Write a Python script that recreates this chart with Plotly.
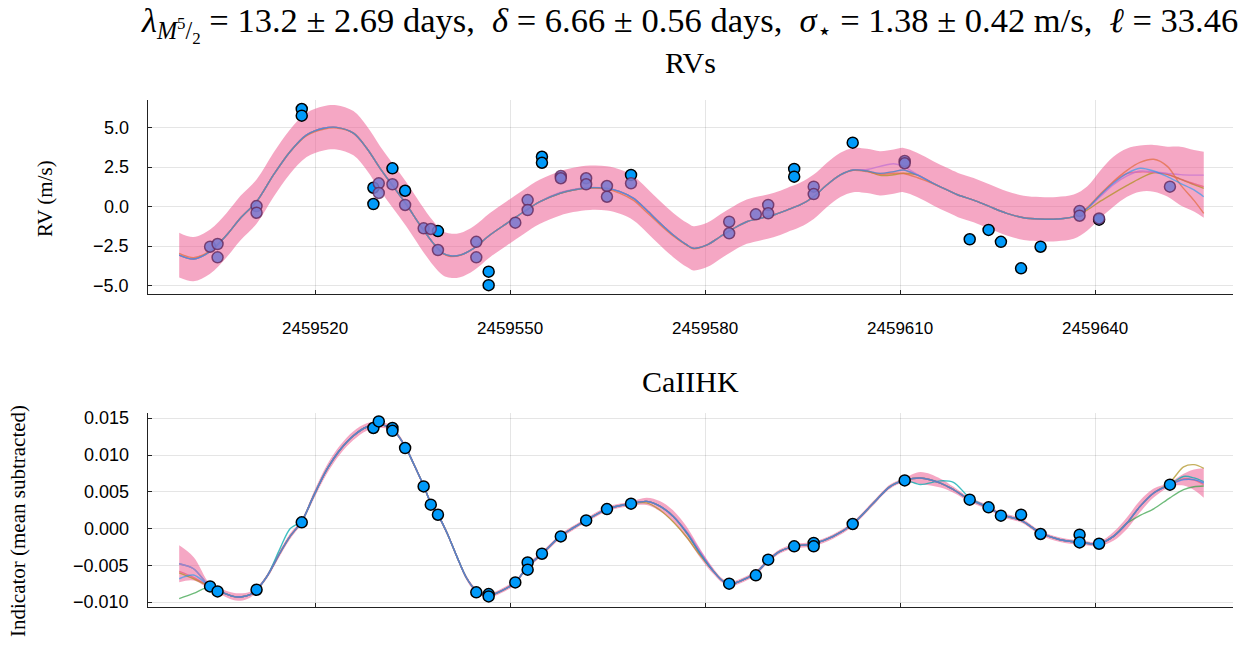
import plotly.graph_objects as go

BJD0 = 2459520  # reference epoch; all times below are days after it

# ---------------- RV observations (m/s) ----------------
rv_t = [-2.05, -2.05, 8.97, 8.97, 11.9, 13.85, 18.9, 26.7, 26.7, 34.9, 34.9, 48.6,
        73.7, 73.7, 82.7, 100.7, 103.6, 105.5, 108.6, 111.6, 120.6]
rv_v = [6.18, 5.76, 1.20, 0.17, 2.43, 1.01, -1.54, -4.11, -4.96, 3.16, 2.78, 2.01,
        2.39, 1.90, 4.05, -2.06, -1.47, -2.22, -3.90, -2.53, -0.82]

rv_alt_t = [-16.15, -15.0, -15.0, -9.0, -9.0, 9.8, 9.8, 11.9, 13.85, 16.7, 17.8, 18.9,
            24.8, 24.8, 30.8, 32.7, 32.7, 37.8, 37.8, 41.7, 41.7, 44.9, 44.9, 48.6,
            63.7, 63.7, 67.8, 69.7, 69.7, 76.7, 76.7, 90.7, 90.7, 117.6, 117.6, 120.6, 131.5]
rv_alt_v = [-2.53, -2.36, -3.20, 0.04, -0.38, 1.48, 0.87, 1.42, 0.11, -1.37, -1.41, -2.74,
            -2.22, -3.20, -1.01, 0.42, -0.21, 1.94, 1.80, 1.80, 1.42, 1.31, 0.63, 1.48,
            -0.95, -1.68, -0.48, 0.11, -0.42, 1.27, 0.80, 2.89, 2.75, -0.27, -0.57, -0.74, 1.27]

# ---------------- CaII H&K indicator (mean subtracted) ----------------
ca_t = [-16.15, -15.0, -9.0, -2.05, 8.97, 9.8, 11.9, 11.9, 13.85, 16.7, 17.8, 18.9,
        24.8, 26.7, 26.7, 30.8, 32.7, 32.7, 34.9, 37.8, 41.7, 44.9, 48.6, 63.7,
        67.8, 69.7, 73.7, 76.7, 76.7, 82.7, 90.7, 100.7, 103.6, 105.5, 108.6, 111.6,
        117.6, 117.6, 120.6, 131.5]
ca_v = [-0.00784, -0.00852, -0.00829, 0.00086, 0.01368, 0.01458, 0.01368, 0.0133,
        0.01096, 0.00575, 0.00326, 0.0019, -0.00865, -0.00888, -0.0092, -0.0073,
        -0.00458, -0.00557, -0.0034, -0.00105, 0.00113, 0.00267, 0.0034, -0.00747,
        -0.00634, -0.00421, -0.0024, -0.00194, -0.0024, 0.00064, 0.00656, 0.00394,
        0.0029, 0.00177, 0.0019, -0.00072, -0.00082, -0.00186, -0.00204, 0.00598]

# ---------------- RV GP prediction ----------------
rv_grid = [-20.9, -18.7, -16.2, -13.6, -11.5, -9.0, -6.4, -3.85, -1.3, 1.3,
           3.3, 5.9, 7.95, 10.0, 12.05, 14.1, 16.15, 18.2, 19.7, 20.8,
           22.3, 24.4, 26.9, 29.5, 32.1, 34.6, 37.7, 39.7, 42.3, 44.9,
           46.9, 49.0, 51.0, 53.1, 55.1, 57.2, 58.2, 60.3, 62.3, 64.4,
           66.4, 68.5, 70.5, 72.6, 74.6, 76.7, 78.7, 80.8, 82.8, 84.9,
           86.9, 89.0, 90.5, 92.6, 95.1, 97.2, 98.9, 101.3, 103.8, 106.4,
           109.0, 111.5, 114.1, 116.7, 118.8, 120.8, 122.8, 124.9, 126.9, 129.0,
           131.1, 133.1, 135.2, 136.7]
rv_band_mid = [-3.06, -3.31, -2.85, -1.79, -0.73, 0.32, 2.01, 3.48, 4.54, 4.96,
               5.02, 4.65, 3.70, 2.43, 1.27, 0.11, -1.16, -2.32, -2.95, -3.10,
               -3.06, -2.63, -1.79, -1.05, -0.32, 0.32, 0.85, 1.06, 1.20, 1.16,
               0.95, 0.53, -0.21, -1.05, -1.79, -2.42, -2.63, -2.42, -1.90, -1.37,
               -0.95, -0.73, -0.53, -0.21, 0.11, 0.63, 1.37, 2.01, 2.32, 2.26,
               2.11, 2.22, 2.32, 2.01, 1.48, 1.06, 0.74, 0.42, 0.0, -0.42,
               -0.70, -0.78, -0.78, -0.63, -0.10, 0.79, 1.58, 2.16, 2.41, 2.43,
               2.22, 1.95, 1.64, 1.39]
rv_band_half = [1.42, 1.40, 1.40, 1.40, 1.40, 1.40, 1.40, 1.40, 1.40, 1.40,
                1.40, 1.40, 1.40, 1.40, 1.40, 1.40, 1.40, 1.40, 1.40, 1.40,
                1.40, 1.40, 1.40, 1.40, 1.40, 1.40, 1.40, 1.40, 1.40, 1.40,
                1.40, 1.40, 1.40, 1.40, 1.40, 1.40, 1.40, 1.40, 1.40, 1.40,
                1.40, 1.40, 1.40, 1.40, 1.40, 1.40, 1.40, 1.40, 1.40, 1.40,
                1.40, 1.40, 1.40, 1.40, 1.40, 1.40, 1.40, 1.40, 1.40, 1.40,
                1.40, 1.40, 1.40, 1.40, 1.40, 1.50, 1.58, 1.53, 1.46, 1.48,
                1.58, 1.85, 1.95, 2.09]
rv_draw_blue = [-3.06, -3.31, -2.85, -1.79, -0.73, 0.32, 2.01, 3.48, 4.54, 4.96,
                5.02, 4.65, 3.70, 2.43, 1.27, 0.11, -1.16, -2.32, -2.95, -3.10,
                -3.06, -2.63, -1.79, -1.05, -0.32, 0.32, 0.85, 1.06, 1.20, 1.16,
                0.95, 0.53, -0.21, -1.05, -1.79, -2.42, -2.63, -2.42, -1.90, -1.37,
                -0.95, -0.73, -0.53, -0.21, 0.11, 0.63, 1.37, 2.01, 2.32, 2.26,
                2.11, 2.22, 2.32, 2.01, 1.48, 1.06, 0.74, 0.42, 0.0, -0.42,
                -0.70, -0.78, -0.78, -0.63, -0.10, 0.74, 1.48, 2.11, 2.43, 2.26,
                1.90, 1.48, 1.06, 0.63]
rv_draw_orange = [-2.95, -3.22, -2.80, -1.79, -0.73, 0.32, 2.01, 3.48, 4.50, 4.90,
                  4.98, 4.65, 3.70, 2.43, 1.27, 0.11, -1.16, -2.32, -2.97, -3.13,
                  -3.08, -2.63, -1.79, -1.05, -0.32, 0.32, 0.85, 1.06, 1.18, 1.10,
                  0.85, 0.40, -0.35, -1.15, -1.85, -2.45, -2.66, -2.42, -1.90, -1.37,
                  -0.95, -0.73, -0.53, -0.21, 0.11, 0.63, 1.37, 2.01, 2.30, 2.22,
                  2.05, 2.12, 2.10, 1.85, 1.45, 1.06, 0.74, 0.42, 0.0, -0.42,
                  -0.70, -0.78, -0.78, -0.63, -0.05, 0.80, 1.60, 2.30, 2.80, 3.00,
                  2.55, 1.40, 0.40, -0.42]
rv_draw_purple = [-3.06, -3.31, -2.85, -1.79, -0.73, 0.32, 2.01, 3.48, 4.54, 4.96,
                  5.02, 4.65, 3.70, 2.43, 1.27, 0.11, -1.16, -2.32, -2.95, -3.10,
                  -3.06, -2.63, -1.79, -1.05, -0.32, 0.32, 0.90, 1.10, 1.22, 1.16,
                  0.95, 0.53, -0.21, -1.05, -1.79, -2.42, -2.63, -2.42, -1.90, -1.37,
                  -0.95, -0.73, -0.53, -0.21, 0.11, 0.63, 1.37, 2.01, 2.32, 2.35,
                  2.55, 2.72, 2.55, 2.05, 1.48, 1.06, 0.74, 0.42, 0.0, -0.42,
                  -0.70, -0.78, -0.78, -0.63, -0.10, 0.65, 1.40, 1.95, 2.26, 2.20,
                  2.11, 2.03, 2.00, 2.00]
rv_draw_pink = [-3.06, -3.31, -2.85, -1.79, -0.73, 0.32, 2.01, 3.48, 4.54, 4.96,
                5.02, 4.65, 3.70, 2.43, 1.27, 0.11, -1.16, -2.32, -2.95, -3.15,
                -3.06, -2.63, -1.79, -1.05, -0.32, 0.32, 0.85, 1.06, 1.20, 1.16,
                0.95, 0.53, -0.21, -1.05, -1.79, -2.42, -2.63, -2.42, -1.90, -1.37,
                -0.95, -0.73, -0.53, -0.21, 0.11, 0.63, 1.37, 2.01, 2.32, 2.26,
                2.11, 2.22, 2.32, 2.01, 1.48, 1.06, 0.74, 0.42, 0.0, -0.42,
                -0.70, -0.78, -0.78, -0.63, -0.10, 0.74, 1.55, 2.10, 2.20, 2.17,
                2.05, 1.75, 1.45, 1.27]
rv_draw_gold = [-3.06, -3.31, -2.85, -1.79, -0.73, 0.32, 2.01, 3.48, 4.54, 4.96,
                5.02, 4.65, 3.70, 2.43, 1.27, 0.11, -1.16, -2.32, -2.95, -3.10,
                -3.06, -2.63, -1.79, -1.05, -0.32, 0.32, 0.85, 1.06, 1.20, 1.16,
                0.95, 0.53, -0.21, -1.05, -1.79, -2.42, -2.63, -2.42, -1.90, -1.37,
                -0.95, -0.73, -0.53, -0.21, 0.11, 0.63, 1.37, 2.01, 2.32, 2.26,
                1.98, 2.02, 2.12, 2.01, 1.48, 1.06, 0.74, 0.42, 0.0, -0.42,
                -0.70, -0.78, -0.78, -0.63, -0.20, 0.35, 0.85, 1.35, 1.80, 2.15,
                2.05, 1.75, 1.40, 1.16]

# ---------------- CaII H&K GP prediction ----------------
ca_grid = [-20.9, -18.7, -16.2, -14.6, -12.6, -11.5, -10.0, -9.0, -7.4, -5.4,
           -3.85, -2.05, -0.26, 1.8, 3.85, 5.9, 7.95, 10.0, 11.9, 13.85,
           15.1, 16.7, 17.8, 18.9, 20.3, 21.8, 23.3, 24.9, 26.7, 28.5,
           30.8, 32.7, 34.9, 37.7, 39.7, 41.7, 44.9, 48.6, 51.0, 53.1,
           55.1, 57.2, 59.2, 61.3, 62.8, 64.1, 65.9, 67.8, 69.7, 71.5,
           73.7, 76.7, 79.7, 82.7, 85.9, 88.5, 90.7, 93.1, 96.2, 98.2,
           100.7, 103.6, 105.5, 108.6, 111.6, 114.6, 117.6, 120.6, 122.8, 124.9,
           126.9, 129.0, 131.5, 133.6, 135.2, 136.7]
ca_band_mid = [-0.00476, -0.00544, -0.00784, -0.00852, -0.0092, -0.00928, -0.00897, -0.00829, -0.00648, -0.0033,
               -0.00105, 0.00099, 0.00439, 0.00802, 0.01073, 0.01264, 0.01382, 0.01413, 0.01355, 0.01118,
               0.00893, 0.00584, 0.00349, 0.0019, -0.00058, -0.00376, -0.0067, -0.00852, -0.0091, -0.00852,
               -0.0073, -0.00512, -0.0034, -0.00105, 0.0001, 0.00113, 0.00267, 0.0034, 0.00371, 0.00303,
               0.00167, -0.00058, -0.0033, -0.0058, -0.00716, -0.00747, -0.00693, -0.00602, -0.00431, -0.00308,
               -0.0024, -0.00204, -0.00105, 0.00064, 0.00349, 0.00575, 0.00656, 0.00689, 0.0062, 0.0053,
               0.00394, 0.0029, 0.0019, 0.00113, -0.00058, -0.0015, -0.00186, -0.00204, -0.00105, 0.00077,
               0.00303, 0.00485, 0.00598, 0.00666, 0.00666, 0.00621]
ca_band_half = [0.0025, 0.0016, 0.0004, 0.0004, 0.0005, 0.0005, 0.0004, 0.0003, 0.0003, 0.0004,
                0.0004, 0.0003, 0.0005, 0.0006, 0.0006, 0.0006, 0.0005, 0.0004, 0.0003, 0.0003,
                0.0003, 0.0003, 0.0003, 0.0003, 0.0003, 0.0003, 0.0003, 0.0003, 0.0003, 0.0003,
                0.0003, 0.0003, 0.0003, 0.0003, 0.0003, 0.0003, 0.0003, 0.0003, 0.0005, 0.0007,
                0.0008, 0.0008, 0.0006, 0.0004, 0.0003, 0.0003, 0.0003, 0.0003, 0.0003, 0.0003,
                0.0003, 0.0003, 0.0003, 0.0003, 0.0003, 0.0003, 0.0003, 0.0008, 0.0006, 0.0004,
                0.0003, 0.0003, 0.0003, 0.0003, 0.0003, 0.0003, 0.0003, 0.0003, 0.0006, 0.0008,
                0.0008, 0.0006, 0.0003, 0.0008, 0.0014, 0.0020]
ca_draw_blue = [-0.0068, -0.0063, -0.00784, -0.00852, -0.0092, -0.00928, -0.00897, -0.00829, -0.00648, -0.0033,
                -0.00105, 0.00099, 0.00439, 0.00802, 0.01073, 0.01264, 0.01382, 0.01413, 0.01355, 0.01118,
                0.00893, 0.00584, 0.00349, 0.0019, -0.00058, -0.00376, -0.0067, -0.00852, -0.0091, -0.00852,
                -0.0073, -0.00512, -0.0034, -0.00105, 0.0001, 0.00113, 0.00267, 0.0034, 0.00371, 0.00303,
                0.00167, -0.00058, -0.0033, -0.0058, -0.00716, -0.00747, -0.00693, -0.00602, -0.00431, -0.00308,
                -0.0024, -0.00204, -0.00105, 0.00064, 0.00349, 0.00575, 0.00656, 0.00689, 0.0062, 0.0053,
                0.00394, 0.0029, 0.0019, 0.00113, -0.00058, -0.0015, -0.00186, -0.00204, -0.00105, 0.00077,
                0.00303, 0.00485, 0.00598, 0.00666, 0.00666, 0.00621]
ca_draw_pink = [-0.0058, -0.0066, -0.00784, -0.00852, -0.0092, -0.00928, -0.00897, -0.00829, -0.00648, -0.0033,
                -0.00105, 0.00099, 0.00439, 0.00802, 0.01073, 0.01264, 0.01382, 0.01413, 0.01355, 0.01118,
                0.00893, 0.00584, 0.00349, 0.0019, -0.00058, -0.00376, -0.0067, -0.00852, -0.0091, -0.00852,
                -0.0073, -0.00512, -0.0034, -0.00105, 0.0001, 0.00113, 0.00267, 0.0034, 0.00371, 0.00303,
                0.00167, -0.00058, -0.0033, -0.0058, -0.00716, -0.00747, -0.00693, -0.00602, -0.00431, -0.00308,
                -0.0024, -0.00204, -0.00105, 0.00064, 0.00349, 0.00575, 0.00656, 0.00689, 0.0062, 0.0053,
                0.00394, 0.0029, 0.0019, 0.00113, -0.00058, -0.0015, -0.00186, -0.00204, -0.00105, 0.00077,
                0.00303, 0.00485, 0.00598, 0.0068, 0.0066, 0.0060]
ca_draw_green = [-0.0095, -0.0088, -0.0079, -0.00852, -0.0092, -0.00928, -0.00897, -0.00829, -0.00648, -0.0033,
                 -0.00105, 0.00099, 0.00439, 0.00802, 0.01073, 0.01264, 0.01382, 0.01413, 0.01355, 0.01118,
                 0.00893, 0.00584, 0.00349, 0.0019, -0.00058, -0.00376, -0.0067, -0.00852, -0.0091, -0.00852,
                 -0.0073, -0.00512, -0.0034, -0.00105, 0.0001, 0.00113, 0.00267, 0.0034, 0.00371, 0.00303,
                 0.00167, -0.00058, -0.0033, -0.0058, -0.00716, -0.00747, -0.00693, -0.00602, -0.00431, -0.00308,
                 -0.0024, -0.00204, -0.00105, 0.00064, 0.00349, 0.00575, 0.00656, 0.00689, 0.0062, 0.0053,
                 0.00394, 0.0029, 0.0019, 0.00113, -0.00058, -0.0015, -0.00186, -0.00204, -0.00105, 0.00077,
                 0.0018, 0.0027, 0.0042, 0.0053, 0.0057, 0.0058]
ca_draw_gold = [-0.0060, -0.0068, -0.00784, -0.00852, -0.0092, -0.00928, -0.00897, -0.00829, -0.00648, -0.0033,
                -0.00105, 0.00099, 0.00439, 0.00802, 0.01073, 0.01264, 0.01382, 0.01413, 0.01355, 0.01118,
                0.00893, 0.00584, 0.00349, 0.0019, -0.00058, -0.00376, -0.0067, -0.00852, -0.0091, -0.00852,
                -0.0073, -0.00512, -0.0034, -0.00105, 0.0001, 0.00113, 0.00267, 0.0034, 0.0035, 0.0025,
                0.0009, -0.0012, -0.0036, -0.0058, -0.00716, -0.00747, -0.00693, -0.00602, -0.00431, -0.00308,
                -0.0024, -0.00204, -0.00105, 0.00064, 0.00349, 0.00575, 0.00656, 0.00689, 0.0062, 0.0053,
                0.00394, 0.0029, 0.0019, 0.00113, -0.00058, -0.0015, -0.00186, -0.00204, -0.00105, 0.00077,
                0.00303, 0.00485, 0.0063, 0.0084, 0.0087, 0.0082]
ca_draw_teal = [-0.00476, -0.00544, -0.00784, -0.00852, -0.0092, -0.00928, -0.00897, -0.00829, -0.00648, -0.0027,
                0.0000, 0.0011, 0.00439, 0.00802, 0.01073, 0.01264, 0.01382, 0.01413, 0.01355, 0.01118,
                0.00893, 0.00584, 0.00349, 0.0019, -0.00058, -0.00376, -0.0067, -0.00852, -0.0091, -0.00852,
                -0.0073, -0.00512, -0.0034, -0.00105, 0.0001, 0.00113, 0.00267, 0.0034, 0.00371, 0.00303,
                0.00167, -0.00058, -0.0033, -0.0058, -0.00716, -0.00747, -0.00693, -0.00602, -0.00431, -0.00308,
                -0.0024, -0.00204, -0.00105, 0.00064, 0.00349, 0.00575, 0.00656, 0.0060, 0.0065, 0.0063,
                0.0042, 0.0029, 0.0019, 0.00113, -0.00058, -0.0015, -0.00186, -0.00204, -0.00105, 0.00077,
                0.00303, 0.00485, 0.00598, 0.0071, 0.0069, 0.0064]
ca_draw_purple = [-0.00476, -0.00544, -0.00784, -0.00852, -0.0092, -0.00928, -0.00897, -0.00829, -0.00648, -0.0033,
                  -0.00105, 0.00099, 0.00439, 0.00802, 0.01073, 0.01264, 0.01382, 0.01413, 0.01355, 0.01118,
                  0.00893, 0.00584, 0.00349, 0.0019, -0.00058, -0.00376, -0.0067, -0.00852, -0.0091, -0.00852,
                  -0.0073, -0.00512, -0.0034, -0.00105, 0.0001, 0.00113, 0.00267, 0.0034, 0.00371, 0.00303,
                  0.00167, -0.0004, -0.0030, -0.0058, -0.00716, -0.00747, -0.00693, -0.00602, -0.00431, -0.00308,
                  -0.0024, -0.00204, -0.00105, 0.00064, 0.00349, 0.00575, 0.00656, 0.00689, 0.0062, 0.0053,
                  0.00394, 0.0029, 0.0019, 0.00113, -0.00058, -0.0015, -0.00186, -0.00204, -0.00105, 0.00077,
                  0.00303, 0.00485, 0.00598, 0.00666, 0.00666, 0.00621]

x_ticks = [2459520, 2459550, 2459580, 2459610, 2459640]
rv_ticks = [-5.0, -2.5, 0.0, 2.5, 5.0]
ca_ticks = [-0.010, -0.005, 0.000, 0.005, 0.010, 0.015]

# ---------------- styling ----------------
BAND = "rgba(237,94,147,0.55)"
C_BLUE = "rgba(0,154,250,0.55)"
C_ORANGE = "rgba(227,111,71,0.75)"
C_GREEN = "rgba(62,164,78,0.75)"
C_PURPLE = "rgba(195,113,210,0.75)"
C_GOLD = "rgba(172,142,24,0.7)"
C_TEAL = "rgba(0,170,174,0.75)"
C_PINK = "rgba(230,80,110,0.6)"
SERIF = "Liberation Serif"
SANS = "Liberation Sans"


def jd(days):
    return [BJD0 + d for d in days]


fig = go.Figure()


def add_band(grid, mid, half, xa, ya):
    lo = [m - h for m, h in zip(mid, half)]
    hi = [m + h for m, h in zip(mid, half)]
    fig.add_trace(go.Scatter(x=jd(grid), y=lo, mode="lines", line=dict(width=0, shape="spline"),
                             xaxis=xa, yaxis=ya, hoverinfo="skip"))
    fig.add_trace(go.Scatter(x=jd(grid), y=hi, mode="lines", line=dict(width=0, shape="spline"),
                             fill="tonexty", fillcolor=BAND, xaxis=xa, yaxis=ya, hoverinfo="skip"))


def add_line(grid, vals, color, xa, ya):
    fig.add_trace(go.Scatter(x=jd(grid), y=vals, mode="lines",
                             line=dict(color=color, width=1.4, shape="spline", smoothing=0.9),
                             xaxis=xa, yaxis=ya, hoverinfo="skip"))


# top panel: RVs
add_band(rv_grid, rv_band_mid, rv_band_half, "x", "y")
for vals, col in [(rv_draw_gold, C_GOLD), (rv_draw_pink, C_PINK), (rv_draw_purple, C_PURPLE),
                  (rv_draw_orange, C_ORANGE), (rv_draw_blue, C_BLUE)]:
    add_line(rv_grid, vals, col, "x", "y")
fig.add_trace(go.Scatter(x=jd(rv_t), y=rv_v, mode="markers",
                         marker=dict(size=11, color="#009AFA", line=dict(color="black", width=1.5)),
                         xaxis="x", yaxis="y"))
fig.add_trace(go.Scatter(x=jd(rv_alt_t), y=rv_alt_v, mode="markers",
                         marker=dict(size=11, color="rgba(124,122,206,0.88)",
                                     line=dict(color="rgba(100,40,90,0.8)", width=1.5)),
                         xaxis="x", yaxis="y"))

# bottom panel: CaII H&K
add_band(ca_grid, ca_band_mid, ca_band_half, "x2", "y2")
for vals, col in [(ca_draw_gold, C_GOLD), (ca_draw_green, C_GREEN), (ca_draw_teal, C_TEAL),
                  (ca_draw_purple, C_PURPLE), (ca_draw_pink, C_PINK), (ca_draw_blue, C_BLUE)]:
    add_line(ca_grid, vals, col, "x2", "y2")
fig.add_trace(go.Scatter(x=jd(ca_t), y=ca_v, mode="markers",
                         marker=dict(size=11, color="#009AFA", line=dict(color="black", width=1.5)),
                         xaxis="x2", yaxis="y2"))

W, H = 1252, 650
px_left, px_right = 148, 1233
xdom = [px_left / W, px_right / W]
common_axis = dict(showline=True, linecolor="#222222", linewidth=1.3, mirror=False,
                   ticks="inside", ticklen=4, tickcolor="#222222", tickwidth=1,
                   showgrid=True, gridcolor="rgba(0,0,0,0.10)", gridwidth=1, zeroline=False)
x_font = dict(family=SANS, size=17, color="black")
y_font = dict(family=SANS, size=18, color="black")
xr = [2459494.3, 2459661.2]

fig.update_layout(
    width=W, height=H, margin=dict(l=0, r=0, t=0, b=0),
    paper_bgcolor="white", plot_bgcolor="white", showlegend=False,
    xaxis=dict(domain=xdom, range=xr, anchor="y", tickvals=x_ticks, tickformat="d",
               ticklabelstandoff=18, tickfont=x_font, **common_axis),
    yaxis=dict(domain=[1 - 294.3 / H, 1 - 100 / H], range=[-5.54, 6.75], anchor="x",
               tickvals=rv_ticks, showticklabels=False, **common_axis),
    xaxis2=dict(domain=xdom, range=xr, anchor="y2", tickvals=x_ticks, showticklabels=False,
                **common_axis),
    yaxis2=dict(domain=[1 - 607.3 / H, 1 - 413 / H], range=[-0.01068, 0.01572], anchor="x2",
                tickvals=ca_ticks, showticklabels=False, **common_axis),
)


def fmt(v, nd):
    return f"{v:.{nd}f}".replace("-", "\u2212")


# y tick labels, right-aligned a little away from the axis line
for v in rv_ticks:
    fig.add_annotation(text=fmt(v, 1), x=131 / W, y=v, xref="paper", yref="y",
                       xanchor="right", yanchor="middle", showarrow=False, font=y_font)
for v in ca_ticks:
    fig.add_annotation(text=fmt(v, 3), x=131 / W, y=v, xref="paper", yref="y2",
                       xanchor="right", yanchor="middle", showarrow=False, font=y_font)

SP = "\u00a0"
title_txt = ("<i>λ</i><sub><i>M</i><sup>5</sup>/<sub>2</sub></sub>" + SP + "= 13.2 ± 2.69 days," + SP * 2
             + "<i>δ</i>" + SP + "= 6.66 ± 0.56 days," + SP * 2
             + "<i>σ</i><sub>⋆</sub>" + SP + "= 1.38 ± 0.42 m/s," + SP * 2
             + "<i>ℓ</i>" + SP + "= 33.46")
fig.add_annotation(text=title_txt, x=689 / W, y=1 - 25 / H, xref="paper", yref="paper",
                   xanchor="center", yanchor="middle", showarrow=False,
                   font=dict(family=SERIF, size=34.5, color="black"))
fig.add_annotation(text="RVs", x=690.5 / W, y=1 - 62 / H, xref="paper", yref="paper",
                   xanchor="center", yanchor="middle", showarrow=False,
                   font=dict(family=SERIF, size=30, color="black"))
fig.add_annotation(text="CaIIHK", x=690.5 / W, y=1 - 381 / H, xref="paper", yref="paper",
                   xanchor="center", yanchor="middle", showarrow=False,
                   font=dict(family=SERIF, size=30, color="black"))
fig.add_annotation(text="RV (m/s)", x=45 / W, y=1 - 199 / H, xref="paper", yref="paper",
                   xanchor="center", yanchor="middle", textangle=-90, showarrow=False,
                   font=dict(family=SERIF, size=21, color="black"))
fig.add_annotation(text="Indicator (mean subtracted)", x=18 / W, y=1 - 521 / H,
                   xref="paper", yref="paper", xanchor="center", yanchor="middle",
                   textangle=-90, showarrow=False,
                   font=dict(family=SERIF, size=21, color="black"))

fig.write_html("out.html")
